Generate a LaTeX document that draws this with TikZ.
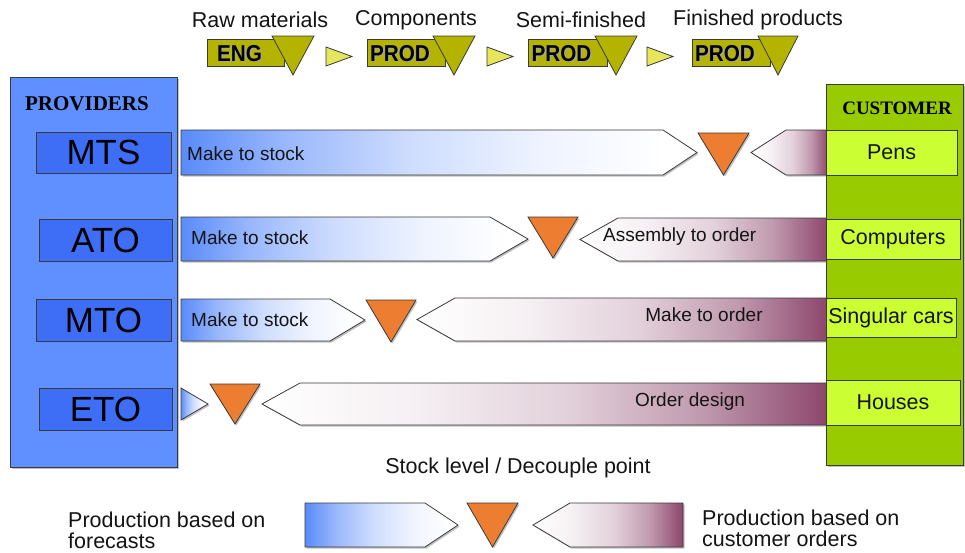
\documentclass[tikz,border=0pt]{standalone}
\usepackage{fontspec}
\setmainfont{Liberation Sans}
\newfontfamily\headserif{Liberation Serif}
\newfontfamily\stagefont[FakeStretch=0.9]{Liberation Sans}
\usetikzlibrary{shadows}

\definecolor{provfill}{HTML}{6090FF}
\definecolor{provbox}{HTML}{3D6EF5}
\definecolor{custfill}{HTML}{99CC00}
\definecolor{custbox}{HTML}{CCFF33}
\definecolor{stageolive}{HTML}{B3B300}
\definecolor{stepyellow}{HTML}{E6E65C}
\definecolor{decorange}{HTML}{ED7D31}
\definecolor{fcblue}{HTML}{5A8BFA}
\definecolor{ordplum}{HTML}{8C466C}
\definecolor{edge}{HTML}{3A3A3A}
\definecolor{ink}{HTML}{141414}

% forecast-driven flow: saturated blue fading to white towards the tip
\pgfdeclarehorizontalshading{forecastfade}{100bp}{color(0bp)=(fcblue); color(25bp)=(fcblue); color(35bp)=(fcblue!62!white); color(47bp)=(fcblue!30!white); color(60bp)=(fcblue!10!white); color(72bp)=(white); color(100bp)=(white)}
% order-driven flow: white at the tip, deep plum at the customer end
\pgfdeclarehorizontalshading{orderfade}{100bp}{color(0bp)=(white); color(25bp)=(white); color(38bp)=(ordplum!8!white); color(52bp)=(ordplum!25!white); color(64bp)=(ordplum!55!white); color(75bp)=(ordplum); color(100bp)=(ordplum)}

\tikzset{
  frame/.style={draw=edge, line width=0.8pt, line join=miter},
  softshadow/.style={drop shadow={shadow xshift=1.5pt, shadow yshift=-1.5pt, opacity=0.25, fill=black}},
  fcarrow/.style={frame, shading=forecastfade, softshadow},
  ordarrow/.style={frame, shading=orderfade, softshadow},
  decpoint/.style={frame, fill=decorange, softshadow},
  stagebox/.style={frame, fill=stageolive},
  stepmark/.style={frame, fill=stepyellow},
  flowtext/.style={inner sep=0pt, text=ink, font=\fontsize{19}{19}\selectfont},
  headtext/.style={inner sep=0pt, text=ink, font=\fontsize{21.5}{21.5}\selectfont},
  stagetext/.style={inner sep=0pt, text=black, font=\stagefont\bfseries\fontsize{23}{23}\selectfont},
  codetext/.style={inner sep=0pt, text=black, font=\fontsize{35}{35}\selectfont},
  prodtext/.style={inner sep=0pt, text=ink, font=\fontsize{21.5}{21.5}\selectfont},
  sidetitle/.style={inner sep=0pt, text=black, font=\headserif\bfseries\fontsize{20}{20}\selectfont},
}

% #1 left x, #2 end of body, #3 tip x, #4 top y, #5 bottom y
\newcommand\ForecastArrow[5]{%
  \path[fcarrow] (#1,#4) -- (#2,#4) -- (#3,{(#4+#5)/2}) -- (#2,#5) -- (#1,#5) -- cycle;}
% #1 tip x, #2 start of body, #3 right x, #4 top y, #5 bottom y
\newcommand\OrderArrow[5]{%
  \path[ordarrow] (#3,#4) -- (#2,#4) -- (#1,{(#4+#5)/2}) -- (#2,#5) -- (#3,#5) -- cycle;}
% #1 left x, #2 right x, #3 top y, #4 apex y
\newcommand\DecouplePoint[4]{%
  \path[decpoint] (#1,#3) -- (#2,#3) -- ({(#1+#2)/2},#4) -- cycle;}
% stage block: #1 left x, #2 triangle left x, #3 triangle right x, #4 name, #5 label
\newcommand\StageBlock[5]{%
  \path[stagebox] (#1,39) rectangle (#2+12,66);
  \path[stagebox] (#2,36) -- (#3,36) -- ({(#2+#3)/2},75) -- cycle;
  \node[stagetext, text=black!35] at ({(#1+#2)/2+1.2},53.5+1.2) {#5};
  \node[stagetext] (#4) at ({(#1+#2)/2},53.5) {#5};}

\begin{document}
\begin{tikzpicture}[x=1pt,y=-1pt]
\useasboundingbox (0,0) rectangle (965,552);
\fill[white] (0,0) rectangle (965,552);

% ---- value-chain stages along the top ----
\node[headtext] (rawmat) at (260,20) {Raw materials};
\node[headtext] (comps)  at (416,20) {Components};
\node[headtext] (semi)   at (581,20) {Semi-finished};
\node[headtext] (fin)    at (758,20) {Finished products};

\StageBlock{207}{272}{314}{eng}{ENG}
\StageBlock{367}{433}{475}{prodA}{PROD}
\StageBlock{528}{595}{637}{prodB}{PROD}
\StageBlock{692}{758}{798}{prodC}{PROD}

\path[stepmark] (326,47) -- (352,56.5) -- (326,66) -- cycle;
\path[stepmark] (487,47) -- (513,56.5) -- (487,66) -- cycle;
\path[stepmark] (647,47) -- (673,56.5) -- (647,66) -- cycle;

% ---- flows per strategy ----
% MTS
\ForecastArrow{181}{663}{697}{130}{175}
\DecouplePoint{698}{749}{133}{175}
\OrderArrow{751}{786}{828}{130}{175}
\node[flowtext, anchor=west] (mtsflow) at (187,154) {Make to stock};
% ATO
\ForecastArrow{181}{490}{528}{217}{261}
\DecouplePoint{528}{578}{217}{258}
\OrderArrow{580}{618}{828}{218}{261}
\node[flowtext, anchor=west] (atoflow) at (191,238) {Make to stock};
\node[flowtext, anchor=west] (atoorder) at (603,237) {Assembly to order};
% MTO
\ForecastArrow{181}{330}{365}{299}{341}
\DecouplePoint{366}{416}{300}{342}
\OrderArrow{417}{455}{828}{298}{341}
\node[flowtext, anchor=west] (mtoflow) at (191,320) {Make to stock};
\node[flowtext] (mtoorder) at (704,315) {Make to order};
% ETO
\path[fcarrow] (181,388) -- (208,404) -- (181,420) -- cycle;
\DecouplePoint{210}{260}{384}{424}
\OrderArrow{262}{300}{828}{383}{425}
\node[flowtext] (etoorder) at (690,402) {Order design};

% ---- providers column ----
\path[frame, fill=provfill, softshadow] (10,77) rectangle (177,467);
\node[sidetitle, font=\headserif\bfseries\fontsize{21}{21}\selectfont] (providers) at (87,104) {PROVIDERS};
\node[frame, fill=provbox, codetext, minimum width=135pt, minimum height=41pt] (mts) at (103.5,152.5) {MTS};
\node[frame, fill=provbox, codetext, minimum width=133pt, minimum height=42pt] (ato) at (105.5,240) {ATO};
\node[frame, fill=provbox, codetext, minimum width=135pt, minimum height=42pt] (mto) at (103.5,320) {MTO};
\node[frame, fill=provbox, codetext, minimum width=133pt, minimum height=42pt] (eto) at (105.5,409) {ETO};

% ---- customer column ----
\path[frame, fill=custfill, softshadow] (826,84) rectangle (963,465);
\node[sidetitle, font=\headserif\bfseries\fontsize{19}{19}\selectfont] (customer) at (897,108) {CUSTOMER};
\node[frame, fill=custbox, prodtext, minimum width=131pt, minimum height=45pt] (pens) at (891.5,152.5) {Pens};
\node[frame, fill=custbox, prodtext, minimum width=134pt, minimum height=40pt] (computers) at (893,239) {Computers};
\node[frame, fill=custbox, prodtext, minimum width=130pt, minimum height=39pt] (cars) at (891,317.5) {Singular cars};
\node[frame, fill=custbox, prodtext, minimum width=134pt, minimum height=45pt] (houses) at (893,402.5) {Houses};

% ---- legend ----
\node[headtext] (legendtitle) at (518,468) {Stock level / Decouple point};
\ForecastArrow{305}{425}{458}{503}{547}
\DecouplePoint{467}{518}{503}{547}
\OrderArrow{533}{570}{683}{503}{547}
\node[headtext, anchor=west, align=left] (fcnote) at (68,530.5) {Production based on\\[-0.5pt]forecasts};
\node[headtext, anchor=west, align=left] (ordnote) at (702,528.5) {Production based on\\[-0.5pt]customer orders};
\end{tikzpicture}
\end{document}
